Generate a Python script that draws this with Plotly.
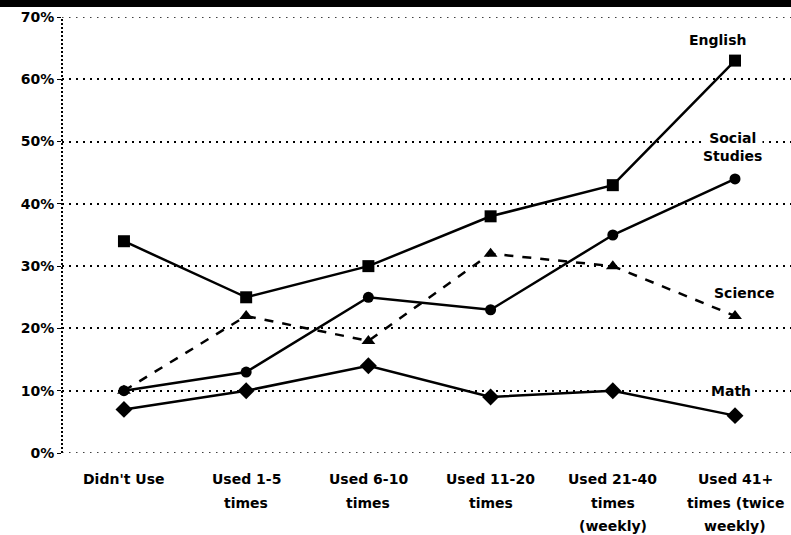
import plotly.graph_objects as go

# Usage categories along the x axis (line breaks mark wrapped labels)
categories = [
    "Didn't Use",
    "Used 1-5<br>times",
    "Used 6-10<br>times",
    "Used 11-20<br>times",
    "Used 21-40<br>times<br>(weekly)",
    "Used 41+<br>times (twice<br>weekly)",
]

# Percentage of students per subject
english = [34, 25, 30, 38, 43, 63]
social_studies = [10, 13, 25, 23, 35, 44]
science = [10, 22, 18, 32, 30, 22]
math = [7, 10, 14, 9, 10, 6]

y_ticks = [0, 10, 20, 30, 40, 50, 60, 70]
y_tick_labels = [f"{v}%" for v in y_ticks]

x_pos = list(range(len(categories)))

FONT = "DejaVu Sans, Verdana, sans-serif"
TXT = dict(family=FONT, size=14, color="black", weight="bold")
DOTS = "1.5px,5.5px"

fig = go.Figure()

series = [
    ("English", english, "square", 12, "solid"),
    ("Social Studies", social_studies, "circle", 11, "solid"),
    ("Science", science, "triangle-up", 12, "dash"),
    ("Math", math, "diamond", 13, "solid"),
]
for name, vals, sym, size, dash in series:
    fig.add_trace(go.Scatter(
        x=x_pos, y=vals, name=name, mode="lines+markers",
        line=dict(color="black", width=2.5, dash=dash),
        marker=dict(symbol=sym, size=size, color="black"),
        showlegend=False,
    ))

# Series labels placed next to the last points
labels = [
    ("English", 4.86, 66.3),
    ("Social<br>Studies", 4.98, 49.2),
    ("Science", 5.07, 25.7),
    ("Math", 4.97, 10.0),
]
for text, x, y in labels:
    fig.add_annotation(
        x=x, y=y, text=text, showarrow=False,
        font=TXT, bgcolor="white", borderpad=0,
    )

# Category labels, one line at a time for wider line spacing
for i, cat in enumerate(categories):
    for k, line in enumerate(cat.split("<br>")):
        fig.add_annotation(
            x=i, xref="x", y=0, yref="paper", yanchor="middle",
            yshift=-26 - 23.5 * k, text=line, showarrow=False,
            font=TXT,
        )

plot_h = 535 - 17 - 82

shapes = [
    # dotted y-axis line
    dict(type="line", xref="paper", yref="paper", x0=0, x1=0, y0=0, y1=1,
         line=dict(color="black", width=2, dash="2px,2px")),
    # dark band along the top edge
    dict(type="rect", xref="paper", yref="paper", x0=-0.2, x1=1.2,
         y0=1 + 10 / plot_h, y1=1 + 20 / plot_h,
         fillcolor="black", line=dict(width=0)),
]
# dotted gridlines on the bottom and top edges of the value range
for v in (y_ticks[0], y_ticks[-1]):
    shapes.append(dict(type="line", xref="paper", yref="y", x0=0, x1=1,
                       y0=v, y1=v, layer="below",
                       line=dict(color="black", width=1.5, dash=DOTS)))

fig.update_layout(
    width=791, height=535,
    margin=dict(l=62, r=0, t=17, b=82),
    paper_bgcolor="white", plot_bgcolor="white",
    font=dict(family=FONT, size=14, color="black"),
    shapes=shapes,
    xaxis=dict(
        range=[-0.507, 5.458],
        tickmode="array", tickvals=x_pos, ticktext=[""] * len(x_pos),
        showgrid=False, zeroline=False, showline=False, ticks="",
    ),
    yaxis=dict(
        range=[0, 70],
        tickmode="array", tickvals=y_ticks, ticktext=y_tick_labels,
        showgrid=True, gridcolor="black", gridwidth=1.5, griddash=DOTS,
        zeroline=False, showline=False,
        ticks="outside", ticklen=4, tickcolor="black",
        tickfont=TXT,
    ),
)

fig.write_html("out.html")
